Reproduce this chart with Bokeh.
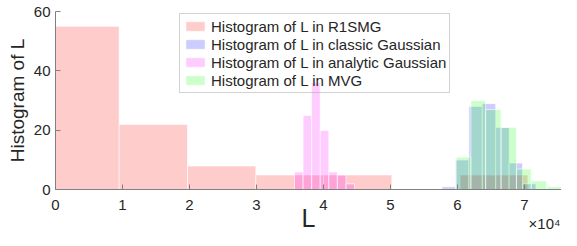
from bokeh.plotting import figure
from bokeh.models import Range1d, FixedTicker, Legend, LinearAxis
from bokeh.embed import file_html
from bokeh.resources import INLINE

# ---- data (L in units of 1e4) ----
r1smg_edges = [0.0, 0.95, 1.97, 2.99, 4.0, 5.02, 6.04, 7.05]
r1smg_counts = [55, 22, 8, 5, 5, 0, 5]

classic_edges = [5.77, 5.97, 6.17, 6.37, 6.57, 6.77, 6.97, 7.17]
classic_counts = [1, 10, 28, 29, 21, 9, 2]

analytic_edges = [3.567, 3.695, 3.823, 3.951, 4.079, 4.207, 4.335, 4.463]
analytic_counts = [6, 25, 36, 20, 6, 5, 2]

mvg_edges = [5.98, 6.2, 6.42, 6.65, 6.88, 7.1, 7.33, 7.55]
mvg_counts = [11, 30, 27, 21, 7, 3, 1]

series_names = ["Histogram of L in R1SMG", "Histogram of L in classic Gaussian",
                "Histogram of L in analytic Gaussian", "Histogram of L in MVG"]
series_colors = ["#ff0000", "#0000ff", "#ff00ff", "#00ff00"]

x_ticks = [0, 1, 2, 3, 4, 5, 6, 7]
y_ticks = [0, 20, 40, 60]

FONT = "Liberation Sans"
TXT = "#262626"
AX = "#808080"

W, H = 561, 230
PX_X = 67.0      # pixels per 1e4
PX_Y = 2.972     # pixels per count
x0 = -55 / PX_X
y1 = 60 + 11 / PX_Y

p = figure(width=W, height=H, output_backend="svg", toolbar_location=None,
           x_range=Range1d(x0, x0 + W / PX_X), y_range=Range1d(y1 - H / PX_Y, y1),
           min_border=0)
p.outline_line_color = None
p.xgrid.visible = False
p.ygrid.visible = False
p.background_fill_color = "white"
p.border_fill_color = "white"

all_series = [(r1smg_edges, r1smg_counts), (classic_edges, classic_counts),
              (analytic_edges, analytic_counts), (mvg_edges, mvg_counts)]
items = []
for (edges, counts), name, col in zip(all_series, series_names, series_colors):
    r = p.quad(left=edges[:-1], right=edges[1:], top=counts, bottom=0,
               fill_color=col, fill_alpha=0.2, line_color="white", line_alpha=0.6, line_width=1)
    items.append((name, [r]))

legend = Legend(items=items, location=(179, 137))
legend.label_text_font = FONT
legend.label_text_font_size = "15px"
legend.label_text_color = TXT
legend.glyph_width = 24
legend.glyph_height = 12
legend.label_standoff = 4
legend.padding = 3
legend.spacing = 0
legend.label_height = 18
legend.margin = 0
legend.border_line_color = "#a6a6a6"
legend.border_line_width = 1
legend.background_fill_alpha = 0
p.add_layout(legend, "center")

for ax in (p.xaxis[0], p.yaxis[0]):
    ax.fixed_location = 0
    ax.axis_line_color = AX
    ax.major_tick_line_color = AX
    ax.major_tick_in = 5
    ax.major_tick_out = 0
    ax.minor_tick_line_color = None
    ax.major_label_text_font = FONT
    ax.major_label_text_font_size = "15px"
    ax.major_label_text_color = TXT

p.xaxis.bounds = (0, 7.84)
p.yaxis.bounds = (0, 60)
p.xaxis.ticker = FixedTicker(ticks=x_ticks)
p.yaxis.ticker = FixedTicker(ticks=y_ticks)
p.xaxis.major_label_standoff = 10
p.yaxis.major_label_standoff = 5

p.xaxis.axis_label = "L"
p.xaxis.axis_label_text_font = FONT
p.xaxis.axis_label_text_font_size = "25px"
p.xaxis.axis_label_text_font_style = "normal"
p.xaxis.axis_label_text_color = TXT
p.xaxis.axis_label_standoff = -9

p.yaxis.axis_label = "Histogram of L"
p.yaxis.axis_label_text_font = FONT
p.yaxis.axis_label_text_font_size = "19px"
p.yaxis.axis_label_text_font_style = "normal"
p.yaxis.axis_label_text_color = TXT
p.yaxis.axis_label_standoff = 3

# exponent note of the x axis (×10⁴)
exp_axis = LinearAxis(fixed_location=0, bounds=(7.14, 7.46), ticker=FixedTicker(ticks=[]),
                      axis_line_color=None, major_tick_line_color=None,
                      minor_tick_line_color=None, major_label_standoff=0,
                      axis_label="×10⁴", axis_label_text_font=FONT,
                      axis_label_text_font_size="15px", axis_label_text_font_style="normal",
                      axis_label_text_color=TXT, axis_label_standoff=25)
p.add_layout(exp_axis, "below")

open("out.html", "w").write(file_html(p, INLINE))
